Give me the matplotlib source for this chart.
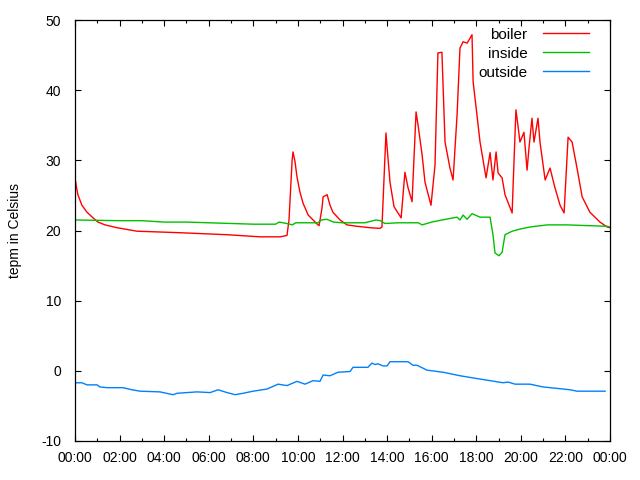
import matplotlib
matplotlib.use("Agg")
from matplotlib import pyplot as plt
from matplotlib.ticker import MultipleLocator

plt.rcParams['font.family'] = ['Liberation Sans', 'DejaVu Sans']
plt.rcParams['axes.unicode_minus'] = False

# hours since midnight, temperature in Celsius
boiler_h = [0, 0.07, 0.13, 0.31, 0.54, 0.81, 1.03, 1.35, 1.88, 2.78, 4.58, 6.82, 8.30, 9.20, 9.51, 9.60, 9.74,
            9.78, 9.87, 9.96, 10.09, 10.23, 10.46, 10.68, 10.90, 10.95, 11.08, 11.13, 11.31,
            11.44, 11.57, 11.89, 12.20, 12.65, 13.23, 13.68, 13.77, 13.95, 14.00, 14.13, 14.31,
            14.63, 14.80, 14.94, 15.12, 15.30, 15.39, 15.57, 15.70, 15.97, 16.15, 16.28, 16.46,
            16.60, 16.82, 16.96, 17.14, 17.27, 17.41, 17.59, 17.81, 17.86, 18.03, 18.17, 18.44,
            18.62, 18.75, 18.89, 18.98, 19.16, 19.29, 19.61, 19.65, 19.78, 19.87, 19.96, 20.14,
            20.28, 20.37, 20.50, 20.59, 20.77, 20.86, 21.09, 21.31, 21.53, 21.76, 21.94, 22.12,
            22.30, 22.52, 22.75, 23.10, 23.55, 23.87, 24.0]
boiler_t = [27.5, 26.1, 25.1, 23.6, 22.6, 21.8, 21.2, 20.8, 20.4, 19.9, 19.7, 19.4, 19.1, 19.1, 19.3, 21.5, 30.0,
            31.2, 29.8, 27.6, 25.5, 23.9, 22.2, 21.5, 20.8, 20.7, 23.2, 24.8, 25.1,
            23.6, 22.6, 21.5, 20.8, 20.6, 20.4, 20.3, 20.5, 33.9, 31.9, 26.9, 23.4,
            21.8, 28.3, 26.1, 24.1, 36.9, 35.0, 30.8, 26.9, 23.6, 29.3, 45.3, 45.4,
            32.6, 28.9, 27.2, 36.5, 46.0, 46.9, 46.7, 47.9, 41.2, 36.5, 32.6, 27.5,
            31.1, 27.2, 31.2, 28.2, 27.5, 25.1, 22.5, 26.1, 37.2, 35.0, 32.6, 34.0,
            28.6, 31.9, 36.0, 32.6, 36.0, 32.6, 27.2, 28.9, 26.1, 23.6, 22.5, 33.3,
            32.6, 28.9, 24.8, 22.6, 21.2, 20.5, 20.4]

inside_h = [0, 2.0, 3.0, 4.0, 5.0, 6.0, 7.0, 8.0, 9.0, 9.15, 9.5, 9.75, 9.9, 10.9, 11.05,
            11.3, 11.6, 12.0, 13.0, 13.5, 13.7, 13.9, 14.5, 15.4, 15.57, 16.0, 16.46,
            17.14, 17.27, 17.41, 17.59, 17.81, 18.17, 18.62, 18.75, 18.84, 19.02, 19.16,
            19.29, 19.61, 19.96, 20.41, 21.18, 22.07, 23.87, 24.0]
inside_t = [21.5, 21.4, 21.4, 21.2, 21.2, 21.1, 21.0, 20.9, 20.9, 21.2, 21.0, 20.8, 21.1, 21.1, 21.5,
            21.6, 21.2, 21.1, 21.1, 21.5, 21.4, 21.0, 21.1, 21.1, 20.8, 21.2, 21.5,
            21.9, 21.5, 22.2, 21.6, 22.4, 21.9, 21.9, 19.4, 16.8, 16.4, 16.9,
            19.4, 19.9, 20.2, 20.5, 20.8, 20.8, 20.6, 20.5]

outside_h = [0, 0.31, 0.54, 0.99, 1.12, 1.44, 2.15, 2.56, 2.92, 3.81, 4.40, 4.58, 5.47, 6.06,
             6.42, 6.82, 7.18, 7.54, 7.99, 8.61, 9.11, 9.51, 9.96, 10.32, 10.68, 10.99, 11.13,
             11.44, 11.80, 12.34, 12.47, 13.14, 13.32, 13.46, 13.59, 13.82, 14.00, 14.13, 14.94,
             15.16, 15.34, 15.79, 16.51, 17.27, 18.03, 18.62, 19.20, 19.43, 19.74, 20.41, 21.00,
             21.62, 22.21, 22.52, 23.78]
outside_t = [-1.7, -1.7, -2.0, -2.0, -2.3, -2.4, -2.4, -2.7, -2.9, -3.0, -3.4, -3.2, -3.0, -3.1,
             -2.7, -3.1, -3.4, -3.2, -2.9, -2.6, -1.9, -2.1, -1.5, -1.9, -1.4, -1.5, -0.6,
             -0.7, -0.2, -0.1, 0.5, 0.5, 1.1, 0.9, 1.0, 0.7, 0.7, 1.3, 1.3,
             0.8, 0.8, 0.1, -0.2, -0.7, -1.1, -1.4, -1.7, -1.6, -1.9, -1.9, -2.3,
             -2.5, -2.7, -2.9, -2.9]

tick_hours = list(range(0, 25, 2))
tick_labels = ['%02d:00' % (h % 24) for h in tick_hours]

fig = plt.figure(figsize=(6.4, 4.8), dpi=100)
ax = fig.add_axes([75/640, 39/480, 535/640, 421/480])

ax.plot(boiler_h, boiler_t, c='#ff0000', lw=1.0, label='boiler')
ax.plot(inside_h, inside_t, c='#00c000', lw=1.0, label='inside')
ax.plot(outside_h, outside_t, c='#0080ff', lw=1.0, label='outside')

ax.set_xlim(0, 24)
ax.set_ylim(-10, 50)
ax.set_xticks(tick_hours)
ax.set_xticklabels(tick_labels)
ax.xaxis.set_minor_locator(MultipleLocator(1))
ax.set_yticks(range(-10, 51, 10))

ax.tick_params(which='major', direction='in', length=4, width=0.8, top=True, right=True,
               labelsize=10, pad=7)
ax.tick_params(axis='y', which='major', pad=10)
ax.tick_params(which='minor', direction='in', length=2, width=0.8, top=True)
for s in ax.spines.values():
    s.set_linewidth(0.9)

ax.set_ylabel('tepm in Celsius', fontsize=10, labelpad=14)

ax.legend(loc='upper right', frameon=False, markerfirst=False, fontsize=11,
          handlelength=3.0, handletextpad=1.0, labelspacing=0.32,
          borderaxespad=0.3, bbox_to_anchor=(0.98, 1.007))

plt.savefig('out.png', dpi=100)
